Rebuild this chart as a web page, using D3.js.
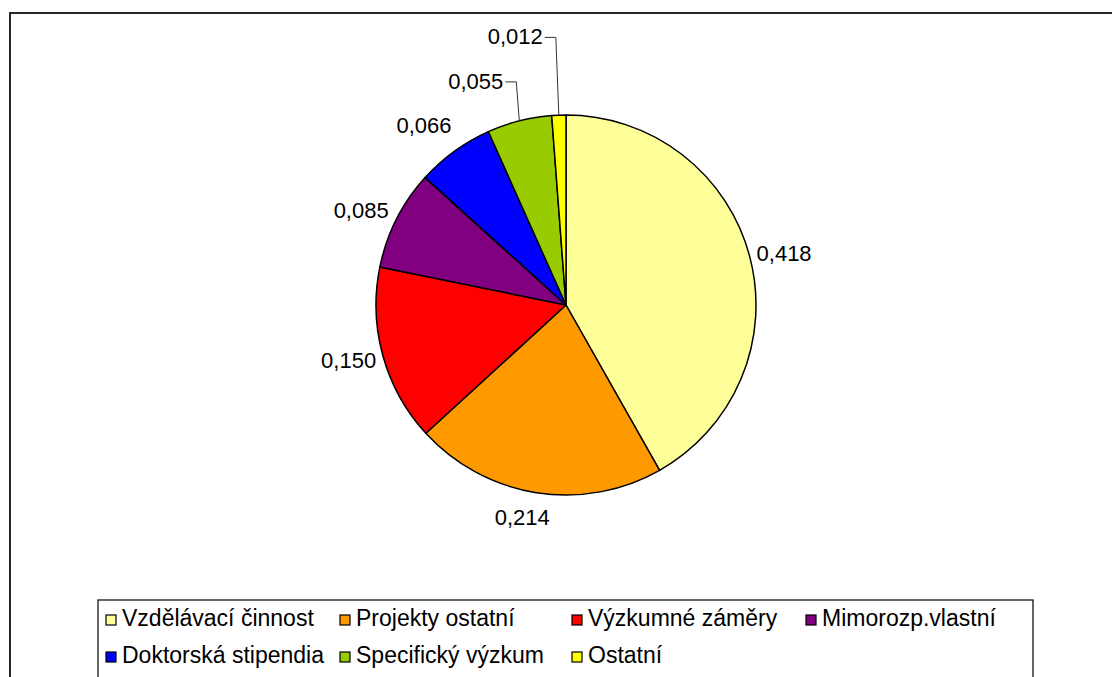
<!DOCTYPE html>
<html>
<head>
<meta charset="utf-8">
<script src="https://cdn.jsdelivr.net/npm/d3@7"></script>
<style>
  html, body { margin: 0; padding: 0; background: #fff; }
  svg { display: block; }
  text { font-family: "Liberation Sans", Arial, sans-serif; fill: #000; }
</style>
</head>
<body>
<svg id="chart" width="1112" height="677"></svg>
<script>
// ---- Data ----
const categories = ["Vzdělávací činnost", "Projekty ostatní", "Výzkumné záměry", "Mimorozp.vlastní",
                    "Doktorská stipendia", "Specifický výzkum", "Ostatní"];
const values = [0.418, 0.214, 0.150, 0.085, 0.066, 0.055, 0.012];
const colors = ["#FFFF99", "#FF9900", "#FF0000", "#800080", "#0000FF", "#99CC00", "#FFFF00"];

// ---- Layout ----
const W = 1112, H = 677;
const cx = 566, cy = 305, R = 190;
const labelGap = [8, 17, 8, 12, 24];   // radial gap for directly placed labels
const leaderMin = 0.06;                 // slices below this get stacked labels with leader lines
const stackStep = 44.5;
const fontSize = 22;

const svg = d3.select("#chart");
const locale = d3.formatLocale({decimal: ",", thousands: " ", grouping: [3], currency: ["", " Kč"]});
const fmt = locale.format(".3f");

// outer frame
svg.append("rect").attr("x", 10).attr("y", 13).attr("width", W + 50).attr("height", H + 50)
  .attr("fill", "none").attr("stroke", "#111").attr("stroke-width", 1.8);

const pie = d3.pie().sort(null).value(d => d)(values);
const arc = d3.arc().innerRadius(0).outerRadius(R);

const g = svg.append("g").attr("transform", `translate(${cx},${cy})`);
g.selectAll("path.slice").data(pie).join("path")
  .attr("class", "slice")
  .attr("d", arc)
  .attr("fill", (d, i) => colors[i])
  .attr("stroke", "#000").attr("stroke-width", 1.5).attr("stroke-linejoin", "round");

// labels
const lg = svg.append("g");
let prevBaseline = null;
pie.forEach((d, i) => {
  const a = (d.startAngle + d.endAngle) / 2;
  const s = Math.sin(a), c = -Math.cos(a);
  const t = lg.append("text").attr("font-size", fontSize).text(fmt(d.data));
  const w = t.node().getComputedTextLength() / 2;
  const h = 8;
  if (d.data >= leaderMin) {
    const r = R + labelGap[i];
    const px = cx + r * s, py = cy + r * c;
    const lx = px + w * s + (c > 0.9 ? -7 : 0), ly = py + h * c;
    t.attr("x", lx).attr("y", ly + 8).attr("text-anchor", "middle");
    prevBaseline = ly + 8;
  } else {
    const ax = cx + R * s, ay = cy + R * c;
    const baseline = prevBaseline - stackStep;
    const textEnd = ax - 16;
    t.attr("x", textEnd).attr("y", baseline).attr("text-anchor", "end");
    const ly = baseline - 7;
    const elbow = Math.min(textEnd + 13, ax - 1);
    lg.append("path")
      .attr("d", `M${textEnd + 2},${ly}H${elbow}L${ax},${ay}`)
      .attr("fill", "none").attr("stroke", "#333").attr("stroke-width", 1);
    prevBaseline = baseline;
  }
});

// legend
const legX = 98, legY = 600, legW = 935, legH = 95;
svg.append("rect").attr("x", legX).attr("y", legY).attr("width", legW).attr("height", legH)
  .attr("fill", "#fff").attr("stroke", "#000").attr("stroke-width", 1.2);
const colX = [106, 340, 572, 806];
const rowY = [625, 662];
categories.forEach((name, i) => {
  const col = i % 4, row = Math.floor(i / 4);
  const x = colX[col], y = rowY[row];
  svg.append("rect").attr("x", x).attr("y", y - 10).attr("width", 10).attr("height", 10)
    .attr("fill", colors[i]).attr("stroke", "#000").attr("stroke-width", 1.2);
  svg.append("text").attr("x", x + 16).attr("y", y + 1).attr("font-size", 23).text(name);
});
</script>
</body>
</html>
